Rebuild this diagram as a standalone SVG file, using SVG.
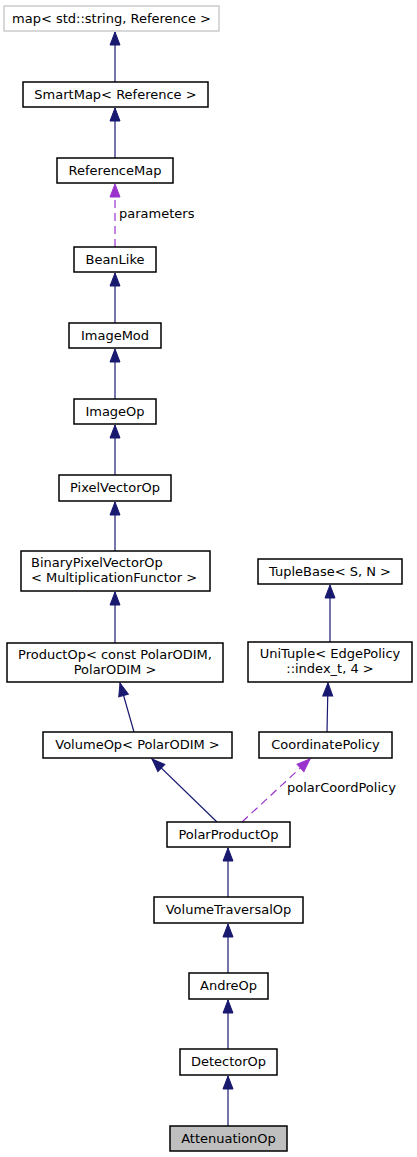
<svg xmlns="http://www.w3.org/2000/svg" width="417" height="1157" viewBox="0 0 417 1157">
<style>
.n rect{fill:#fff;stroke:#000;stroke-width:1.5}
.n.ext rect{stroke:#bfbfbf;stroke-width:1.2}
.n.cur rect{fill:#bfbfbf}
text{font-family:"DejaVu Sans","Liberation Sans",sans-serif;font-size:13px;fill:#000}
.c{text-anchor:middle}
.e{fill:none;stroke:#191970;stroke-width:1.2}
.u{fill:none;stroke:#9a32cd;stroke-width:1.2;stroke-dasharray:8,5}
</style>
<defs>
<marker id="ah" markerUnits="userSpaceOnUse" markerWidth="16" markerHeight="14" refX="14" refY="6" orient="auto" viewBox="0 0 16 12">
<path d="M1,1 L14,6 L1,11 z" fill="#191970" stroke="#191970" stroke-width="1"/>
</marker>
<marker id="ap" markerUnits="userSpaceOnUse" markerWidth="16" markerHeight="14" refX="14" refY="6" orient="auto" viewBox="0 0 16 12">
<path d="M1,1 L14,6 L1,11 z" fill="#9a32cd" stroke="#9a32cd" stroke-width="1"/>
</marker>
</defs>
<g id="connectors">
<path class="e" d="M115,82 L115,32" marker-end="url(#ah)"/>
<path class="e" d="M115,158 L115,108" marker-end="url(#ah)"/>
<path class="u" d="M115,247 L115,184" marker-end="url(#ap)"/>
<text x="119" y="218">parameters</text>
<path class="e" d="M115,323 L115,273" marker-end="url(#ah)"/>
<path class="e" d="M115,399 L115,349" marker-end="url(#ah)"/>
<path class="e" d="M115,475 L115,425" marker-end="url(#ah)"/>
<path class="e" d="M115,551 L115,502" marker-end="url(#ah)"/>
<path class="e" d="M115,643 L115,592" marker-end="url(#ah)"/>
<path class="e" d="M134,732 L120,683" marker-end="url(#ah)"/>
<path class="e" d="M330,642 L330,585" marker-end="url(#ah)"/>
<path class="e" d="M327,732 L328,683" marker-end="url(#ah)"/>
<path class="e" d="M217,822 L152,759" marker-end="url(#ah)"/>
<path class="u" d="M242,822 L310,759" marker-end="url(#ap)"/>
<text x="287" y="792">polarCoordPolicy</text>
<path class="e" d="M228,897 L228,848" marker-end="url(#ah)"/>
<path class="e" d="M228,973 L228,924" marker-end="url(#ah)"/>
<path class="e" d="M228,1049 L228,1000" marker-end="url(#ah)"/>
<path class="e" d="M228,1126 L228,1076" marker-end="url(#ah)"/>
</g>
<g id="node_map" class="n ext"><rect x="4" y="6" width="215" height="25"/><text class="c" x="111.5" y="23">map&lt; std::string, Reference &gt;</text></g>
<g id="node_smartmap" class="n"><rect x="23" y="82" width="185" height="25"/><text class="c" x="115.5" y="99">SmartMap&lt; Reference &gt;</text></g>
<g id="node_referencemap" class="n"><rect x="57" y="158" width="116" height="25"/><text class="c" x="115" y="175">ReferenceMap</text></g>
<g id="node_beanlike" class="n"><rect x="74" y="247" width="82" height="25"/><text class="c" x="115" y="264">BeanLike</text></g>
<g id="node_imagemod" class="n"><rect x="69" y="323" width="92" height="25"/><text class="c" x="115" y="340">ImageMod</text></g>
<g id="node_imageop" class="n"><rect x="74" y="399" width="82" height="25"/><text class="c" x="115" y="416">ImageOp</text></g>
<g id="node_pixelvectorop" class="n"><rect x="59" y="475" width="112" height="26"/><text class="c" x="115" y="492">PixelVectorOp</text></g>
<g id="node_binarypixelvectorop" class="n"><rect x="21" y="551" width="189" height="40"/><text x="31" y="567">BinaryPixelVectorOp</text><text x="31" y="582">&lt; MultiplicationFunctor &gt;</text></g>
<g id="node_productop" class="n"><rect x="7" y="643" width="216" height="39"/><text class="c" x="115" y="659">ProductOp&lt; const PolarODIM,</text><text class="c" x="115" y="674">PolarODIM &gt;</text></g>
<g id="node_tuplebase" class="n"><rect x="258" y="559" width="144" height="25"/><text class="c" x="330" y="576">TupleBase&lt; S, N &gt;</text></g>
<g id="node_unituple" class="n"><rect x="248" y="642" width="164" height="40"/><text class="c" x="330" y="658">UniTuple&lt; EdgePolicy</text><text class="c" x="330" y="673">::index_t, 4 &gt;</text></g>
<g id="node_volumeop" class="n"><rect x="43" y="732" width="189" height="26"/><text class="c" x="137.5" y="749">VolumeOp&lt; PolarODIM &gt;</text></g>
<g id="node_coordinatepolicy" class="n"><rect x="259" y="732" width="133" height="26"/><text class="c" x="325.5" y="749">CoordinatePolicy</text></g>
<g id="node_polarproductop" class="n"><rect x="167" y="822" width="123" height="25"/><text class="c" x="228.5" y="839">PolarProductOp</text></g>
<g id="node_volumetraversalop" class="n"><rect x="154" y="897" width="149" height="26"/><text class="c" x="228.5" y="914">VolumeTraversalOp</text></g>
<g id="node_andreop" class="n"><rect x="189" y="973" width="79" height="26"/><text class="c" x="228.5" y="990">AndreOp</text></g>
<g id="node_detectorop" class="n"><rect x="180" y="1049" width="97" height="26"/><text class="c" x="228.5" y="1066">DetectorOp</text></g>
<g id="node_attenuationop" class="n cur"><rect x="170" y="1126" width="117" height="25"/><text class="c" x="228.5" y="1143">AttenuationOp</text></g>
</svg>
